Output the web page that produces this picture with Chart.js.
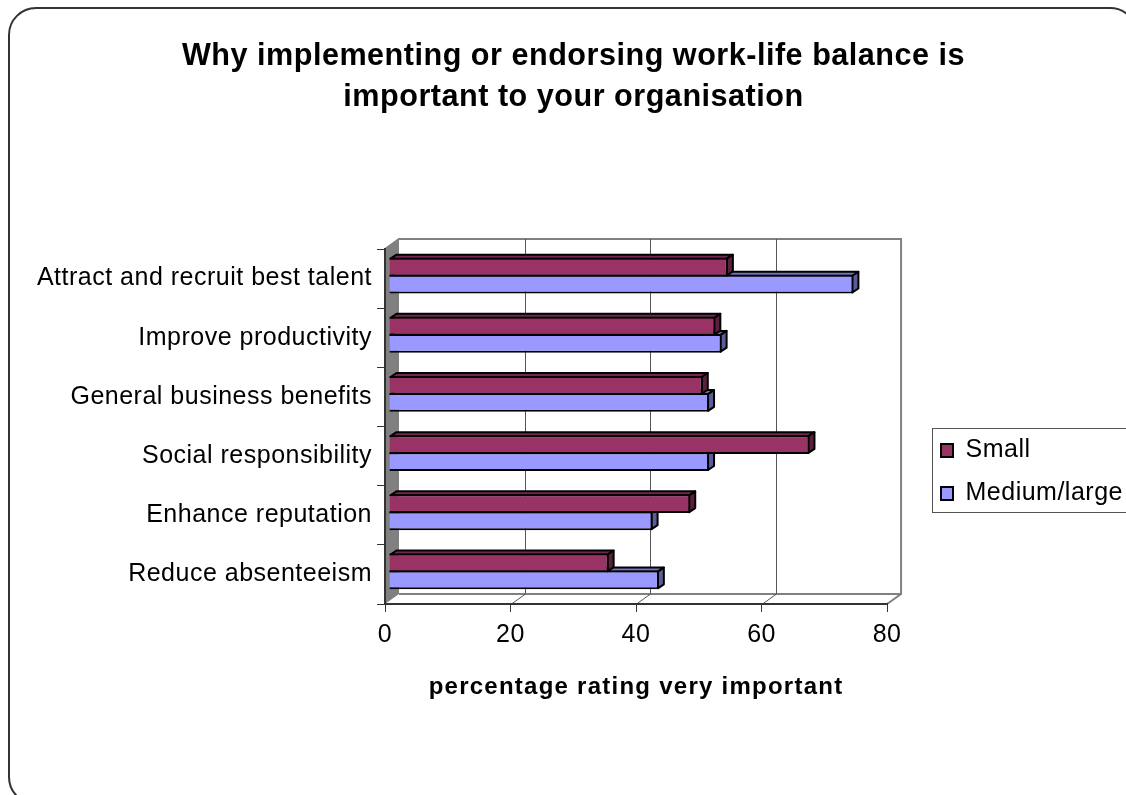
<!DOCTYPE html>
<html>
<head>
<meta charset="utf-8">
<title>Work-life balance</title>
<script src="https://cdn.jsdelivr.net/npm/chart.js@4"></script>
<style>
  html, body { margin: 0; padding: 0; background: #fff; overflow: hidden; }
  canvas { display: block; }
</style>
</head>
<body>
<canvas id="myChart" width="1126" height="795"></canvas>
<script>
const categories = ['Attract and recruit best talent', 'Improve productivity', 'General business benefits',
  'Social responsibility', 'Enhance reputation', 'Reduce absenteeism'];
const small = [54, 52, 50, 67, 48, 35];
const mediumLarge = [74, 53, 51, 51, 42, 43];
const xTicks = [0, 20, 40, 60, 80];
const titleLines = ['Why implementing or endorsing work-life balance is', 'important to your organisation'];
const xTitle = 'percentage rating very important';

const FONT = '"Liberation Sans", Arial, sans-serif';
// 3D look: depth of the walls, and how far bars sit inside that depth
const WALL = { dx: 14, dy: -10 };
const BAR_SHIFT = { dx: 4, dy: -3 };
const BAR_DEPTH = { dx: 6, dy: -4 };
const faces = [
  { top: '#732650', side: '#5c1f3d' },
  { top: '#7373bf', side: '#5c5c99' }
];

const fake3d = {
  id: 'fake3d',
  beforeLayout(chart) {
    chart.ctx.letterSpacing = '0.5px';
  },
  beforeDraw(chart) {
    const { ctx, chartArea: a, scales: { x } } = chart;
    ctx.save();
    // slide outline
    ctx.strokeStyle = '#333';
    ctx.lineWidth = 2;
    ctx.beginPath();
    ctx.roundRect(9, 8, 1128, 796, 27);
    ctx.stroke();

    // left wall
    ctx.fillStyle = '#808080';
    ctx.beginPath();
    ctx.moveTo(a.left, a.top);
    ctx.lineTo(a.left + WALL.dx, a.top + WALL.dy);
    ctx.lineTo(a.left + WALL.dx, a.bottom + WALL.dy);
    ctx.lineTo(a.left, a.bottom);
    ctx.closePath();
    ctx.fill();

    // back wall outline, floor edge and gridlines
    ctx.strokeStyle = '#808080';
    ctx.lineWidth = 2;
    ctx.beginPath();
    ctx.moveTo(a.left, a.top);
    ctx.lineTo(a.left + WALL.dx, a.top + WALL.dy);
    ctx.lineTo(a.right + WALL.dx, a.top + WALL.dy);
    ctx.lineTo(a.right + WALL.dx, a.bottom + WALL.dy);
    ctx.lineTo(a.right, a.bottom);
    ctx.moveTo(a.left + WALL.dx, a.bottom + WALL.dy);
    ctx.lineTo(a.right + WALL.dx, a.bottom + WALL.dy);
    ctx.stroke();

    ctx.lineWidth = 1;
    xTicks.slice(1, -1).forEach(v => {
      const px = Math.round(x.getPixelForValue(v)) + 0.5;
      ctx.strokeStyle = '#555';
      ctx.beginPath();
      ctx.moveTo(px + WALL.dx, a.top + WALL.dy);
      ctx.lineTo(px + WALL.dx, a.bottom + WALL.dy);
      ctx.lineTo(px, a.bottom);
      ctx.stroke();
    });
    ctx.restore();
  },
  afterLayout(chart) {
    // legend box sits away from the plot, cut by the right edge
    const legend = chart.legend;
    legend.left = 923;
    legend.right = 1126;
    legend.top += 109;
    legend.bottom += 109;
    // long category label runs past the padded scale box, don't clip it
    chart.scales.y.left = 0;
  },
  beforeDatasetsDraw(chart) {
    chart.ctx.save();
    chart.ctx.translate(BAR_SHIFT.dx, BAR_SHIFT.dy);
  },
  afterDatasetsDraw(chart) {
    chart.ctx.restore();
  },
  beforeDatasetDraw(chart, args) {
    const { ctx } = chart;
    const face = faces[args.index];
    ctx.save();
    ctx.strokeStyle = '#000';
    ctx.lineWidth = 2;
    ctx.lineJoin = 'round';
    args.meta.data.forEach(bar => {
      const t = bar.y - bar.height / 2 + 1;
      const b = bar.y + bar.height / 2 - 1;
      const l = bar.base + 1;
      const r = bar.x - 1;
      ctx.fillStyle = face.top;
      ctx.beginPath();
      ctx.moveTo(l, t);
      ctx.lineTo(l + BAR_DEPTH.dx, t + BAR_DEPTH.dy);
      ctx.lineTo(r + BAR_DEPTH.dx, t + BAR_DEPTH.dy);
      ctx.lineTo(r, t);
      ctx.closePath();
      ctx.fill();
      ctx.stroke();
      ctx.fillStyle = face.side;
      ctx.beginPath();
      ctx.moveTo(r, t);
      ctx.lineTo(r + BAR_DEPTH.dx, t + BAR_DEPTH.dy);
      ctx.lineTo(r + BAR_DEPTH.dx, b + BAR_DEPTH.dy);
      ctx.lineTo(r, b);
      ctx.closePath();
      ctx.fill();
      ctx.stroke();
    });
    ctx.restore();
  },
  afterDraw(chart) {
    const { ctx, chartArea: a } = chart;
    ctx.save();
    // legend border, open at the right because it runs off the page
    ctx.strokeStyle = '#555';
    ctx.lineWidth = 1;
    ctx.strokeRect(932.5, 428.5, 220, 84);
    // axis title needs wider tracking than the other text
    ctx.letterSpacing = '1.25px';
    ctx.fillStyle = '#000';
    ctx.font = 'bold 24px ' + FONT;
    ctx.textAlign = 'center';
    ctx.textBaseline = 'middle';
    ctx.fillText(xTitle, (a.left + a.right) / 2, 687);
    ctx.restore();
  }
};

new Chart(document.getElementById('myChart'), {
  type: 'bar',
  data: {
    labels: categories,
    datasets: [{
      label: 'Small',
      data: small,
      backgroundColor: '#993366',
      borderColor: '#000',
      borderWidth: 2,
      clip: false
    },
    {
      label: 'Medium/large',
      data: mediumLarge,
      backgroundColor: '#9999ff',
      borderColor: '#000',
      borderWidth: 2,
      clip: false
    }]
  },
  plugins: [fake3d],
  options: {
    indexAxis: 'y',
    responsive: false,
    animation: false,
    categoryPercentage: 0.576,
    barPercentage: 1.1,
    layout: { padding: { left: 50, right: 29, top: 36, bottom: 105 } },
    plugins: {
      title: {
        display: true,
        text: titleLines,
        color: '#000',
        font: { family: FONT, size: 30.6, weight: 'bold', lineHeight: 1.34 },
        padding: { top: 0, bottom: 131 }
      },
      legend: {
        display: true,
        position: 'right',
        labels: {
          color: '#000',
          font: { family: FONT, size: 25 },
          boxWidth: 12,
          boxHeight: 13,
          padding: 18
        }
      },
      tooltip: { enabled: false }
    },
    scales: {
      x: {
        type: 'linear',
        min: 0,
        max: 80,
        afterFit(scale) { scale.height = 86; },
        afterBuildTicks(scale) { scale.ticks = xTicks.map(value => ({ value })); },
        border: { display: true, color: '#333', width: 2 },
        grid: { drawOnChartArea: false, drawTicks: true, tickLength: 8, color: '#333', lineWidth: 1 },
        ticks: { color: '#000', font: { family: FONT, size: 25 }, padding: 8, maxRotation: 0 }
      },
      y: {
        afterFit(scale) { scale.width = 335; },
        border: { display: true, color: '#333', width: 2 },
        grid: { drawOnChartArea: false, drawTicks: true, tickLength: 8, color: '#333', lineWidth: 1 },
        ticks: { color: '#000', font: { family: FONT, size: 25 }, padding: 5, autoSkip: false, maxRotation: 0 }
      }
    }
  }
});
</script>
</body>
</html>
